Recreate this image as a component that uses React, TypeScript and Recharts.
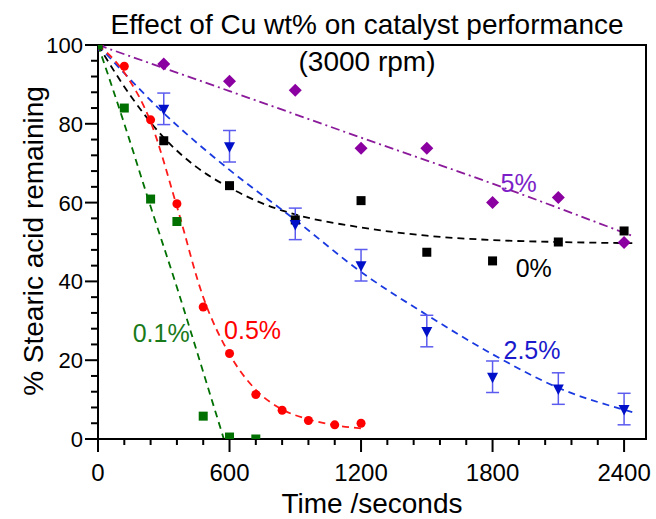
import React from "react";
import {
  ComposedChart,
  Line,
  Scatter,
  XAxis,
  YAxis,
  ErrorBar,
  ReferenceArea,
  ReferenceDot,
} from "recharts";

const FONT = "'Liberation Sans', Arial, sans-serif";

// measured points
const times01 = [0, 120, 240, 360, 480, 600, 720];
const values01 = [100, 84.0, 60.9, 55.2, 5.8, 0.5, 0];

const times05 = [0, 120, 240, 360, 480, 600, 720, 840, 960, 1080, 1200];
const values05 = [100, 94.6, 81.0, 59.7, 33.5, 21.7, 11.3, 7.3, 4.7, 3.6, 4.0];

const timesLong = [0, 300, 600, 900, 1200, 1500, 1800, 2100, 2400];
const values0 = [100, 75.7, 64.3, 55.6, 60.5, 47.4, 45.2, 50.0, 52.8];
const values5 = [100, 95.2, 90.8, 88.5, 73.8, 73.8, 60.0, 61.3, 49.9];
const values25 = [100, 83.8, 74.3, 54.6, 44.1, 27.4, 15.8, 12.8, 7.6];
const errors25 = [0, 4, 4, 4, 4, 4, 4, 4, 4];

// fitted curves
const fitTimes01 = [0, 120, 240, 360, 480, 574];
const fitValues01 = [100, 80, 59, 38.5, 17, 0];

const fitTimes05 = [0, 120, 240, 360, 480, 600, 720, 840, 960, 1080, 1200];
const fitValues05 = [100, 93, 80.5, 59, 36, 21.5, 12.5, 7.5, 5, 3.5, 2.7];

const fitTimes0 = [0, 150, 300, 450, 600, 750, 900, 1200, 1500, 1800, 2100, 2440];
const fitValues0 = [100, 87, 76.5, 69, 63.8, 59.8, 57, 53.7, 51.6, 50.5, 50, 49.7];

const fitTimes5 = [0, 600, 1200, 1800, 2440];
const fitValues5 = [100, 88.3, 76.5, 64.8, 51.5];

const fitTimes25 = [0, 300, 600, 900, 1200, 1500, 1800, 2100, 2440];
const fitValues25 = [100, 82.7, 68.3, 55.6, 42.4, 31.5, 21.5, 13, 6.8];

const xTicks = Array.from({ length: 21 }, (_, i) => i * 120);
const yTicks = Array.from({ length: 26 }, (_, i) => i * 4);

const pts = (ts: number[], vs: number[], es?: number[]) =>
  ts.map((t, i) => ({ t, v: vs[i], e: es ? es[i] : 0 }));

const XTick = (props: any) => {
  const { x, y, payload } = props;
  const major = payload.value % 600 === 0;
  return (
    <g>
      <line x1={x} x2={x} y1={y} y2={y + (major ? 13 : 6)} stroke="#000" strokeWidth={2} />
      {major && (
        <text x={x} y={y + 42} textAnchor="middle" fontSize={24} fontFamily={FONT} fill="#000">
          {payload.value}
        </text>
      )}
    </g>
  );
};

const YTick = (props: any) => {
  const { x, y, payload } = props;
  const major = payload.value % 20 === 0;
  return (
    <g>
      <line x1={x - (major ? 13 : 7)} x2={x} y1={y} y2={y} stroke="#000" strokeWidth={2} />
      {major && (
        <text x={x - 15} y={y + 8} textAnchor="end" fontSize={22} fontFamily={FONT} fill="#000">
          {payload.value}
        </text>
      )}
    </g>
  );
};

const Square = ({ cx, cy, fill }: any) => (
  <rect x={cx - 4.5} y={cy - 4.5} width={9} height={9} fill={fill} />
);
const Circle = ({ cx, cy, fill }: any) => <circle cx={cx} cy={cy} r={4.5} fill={fill} />;
const Diamond = ({ cx, cy, fill }: any) => (
  <path d={`M${cx},${cy - 6.5}L${cx + 6.5},${cy}L${cx},${cy + 6.5}L${cx - 6.5},${cy}Z`} fill={fill} />
);
const TriDown = ({ cx, cy, fill }: any) => (
  <path d={`M${cx - 5.5},${cy - 4}L${cx + 5.5},${cy - 4}L${cx},${cy + 6.5}Z`} fill={fill} />
);

const label = (text: string, color: string) => ({
  value: text,
  position: "center" as const,
  fill: color,
  fontSize: 25,
  fontFamily: FONT,
});

const textStyle: React.CSSProperties = {
  position: "absolute",
  fontFamily: FONT,
  fontSize: 28,
  lineHeight: 1,
  whiteSpace: "nowrap",
  color: "#000",
};

export default function App() {
  return (
    <div style={{ position: "absolute", left: 0, top: 0, width: 656, height: 519, background: "#fff" }}>
      <ComposedChart
        width={656}
        height={519}
        margin={{ top: 45, right: 10, left: 38, bottom: 40 }}
      >
        <XAxis
          type="number"
          dataKey="t"
          domain={[0, 2500]}
          ticks={xTicks}
          interval={0}
          tickSize={0}
          tickMargin={0}
          tickLine={false}
          tick={<XTick />}
          axisLine={{ stroke: "#000", strokeWidth: 2 }}
          height={40}
          allowDataOverflow
        />
        <YAxis
          type="number"
          dataKey="v"
          domain={[0, 100]}
          ticks={yTicks}
          interval={0}
          tickSize={0}
          tickMargin={0}
          tickLine={false}
          tick={<YTick />}
          axisLine={{ stroke: "#000", strokeWidth: 2 }}
          width={60}
          allowDataOverflow
        />
        <ReferenceArea x1={0} x2={2500} y1={0} y2={100} fill="none" stroke="#000" strokeWidth={2} />

        <Line data={pts(fitTimes5, fitValues5)} dataKey="v" type="monotone" stroke="#8b1a9b" strokeWidth={1.8} strokeDasharray="9 4 2 4" dot={false} isAnimationActive={false} />
        <Line data={pts(fitTimes0, fitValues0)} dataKey="v" type="monotone" stroke="#000" strokeWidth={1.8} strokeDasharray="7 5" dot={false} isAnimationActive={false} />
        <Line data={pts(fitTimes25, fitValues25)} dataKey="v" type="monotone" stroke="#1a3ae0" strokeWidth={1.8} strokeDasharray="7 5" dot={false} isAnimationActive={false} />
        <Line data={pts(fitTimes05, fitValues05)} dataKey="v" type="monotone" stroke="#ff1a1a" strokeWidth={1.8} strokeDasharray="7 5" dot={false} isAnimationActive={false} />
        <Line data={pts(fitTimes01, fitValues01)} dataKey="v" type="monotone" stroke="#007000" strokeWidth={1.8} strokeDasharray="7 5" dot={false} isAnimationActive={false} />

        <Scatter data={pts(timesLong, values5)} dataKey="v" fill="#8b00a0" shape={Diamond} isAnimationActive={false} />
        <Scatter data={pts(timesLong, values0)} dataKey="v" fill="#000" shape={Square} isAnimationActive={false} />
        <Scatter data={pts(timesLong, values25, errors25)} dataKey="v" fill="#0010c8" shape={TriDown} isAnimationActive={false}>
          <ErrorBar dataKey="e" direction="y" width={6.5} stroke="#5b5bef" strokeWidth={1.5} />
        </Scatter>
        <Scatter data={pts(times05, values05)} dataKey="v" fill="#ff0000" shape={Circle} isAnimationActive={false} />
        <Scatter data={pts(times01, values01)} dataKey="v" fill="#007000" shape={Square} isAnimationActive={false} />

        <ReferenceDot x={1919} y={65} r={0} fill="none" stroke="none" label={label("5%", "#7d1fc8")} />
        <ReferenceDot x={1988} y={43.3} r={0} fill="none" stroke="none" label={label("0%", "#000")} />
        <ReferenceDot x={1980} y={22.5} r={0} fill="none" stroke="none" label={label("2.5%", "#1a1acc")} />
        <ReferenceDot x={705} y={27.6} r={0} fill="none" stroke="none" label={label("0.5%", "#ff0000")} />
        <ReferenceDot x={288} y={26.8} r={0} fill="none" stroke="none" label={label("0.1%", "#1a7a1a")} />
      </ComposedChart>

      <div style={{ ...textStyle, left: 367, top: 25, transform: "translate(-50%, -50%)" }}>
        Effect of Cu wt% on catalyst performance
      </div>
      <div style={{ ...textStyle, left: 367, top: 62, transform: "translate(-50%, -50%)" }}>
        (3000 rpm)
      </div>
      <div style={{ ...textStyle, left: 372, top: 504, transform: "translate(-50%, -50%)" }}>
        Time /seconds
      </div>
      <div style={{ ...textStyle, left: 34, top: 241, transform: "translate(-50%, -50%) rotate(-90deg)" }}>
        % Stearic acid remaining
      </div>
    </div>
  );
}
